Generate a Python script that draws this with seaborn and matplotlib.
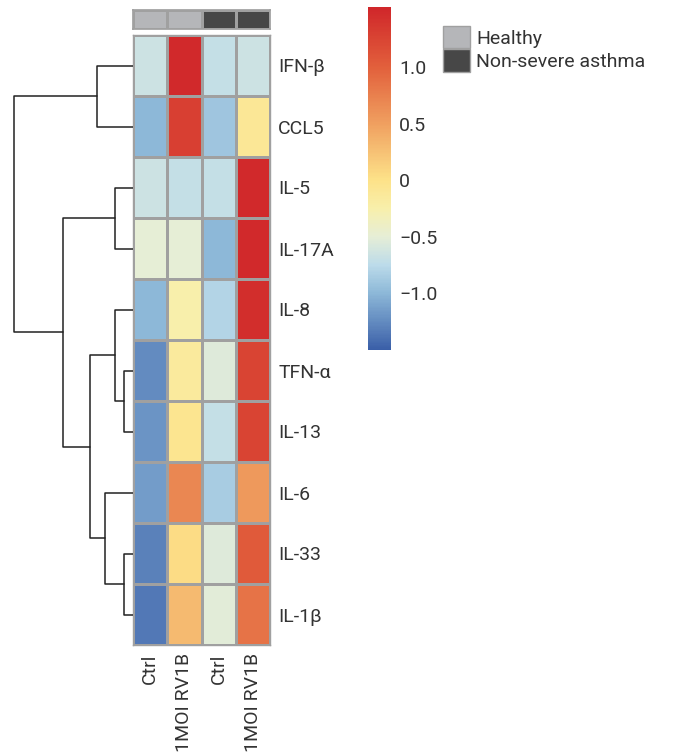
import numpy as np
import pandas as pd
import seaborn as sns
import matplotlib.pyplot as plt
from matplotlib.colors import LinearSegmentedColormap, ListedColormap
from matplotlib.patches import Patch

sns.set_theme(style="white")
plt.rcParams['font.family'] = ['Roboto', 'DejaVu Sans']

genes = ["IFN-β", "CCL5", "IL-5", "IL-17A", "IL-8", "TFN-α", "IL-13", "IL-6", "IL-33", "IL-1β"]
samples = ["Ctrl", "1MOI RV1B", "Ctrl", "1MOI RV1B"]
groups = ["Healthy", "Healthy", "Non-severe asthma", "Non-severe asthma"]

healthy_ctrl = [-0.65, -1.0, -0.65, -0.5, -1.0, -1.25, -1.2, -1.15, -1.3, -1.35]
healthy_rv1b = [1.5, 1.3, -0.7, -0.5, -0.25, -0.15, -0.05, 0.7, 0.05, 0.3]
nsa_ctrl = [-0.7, -0.9, -0.7, -1.0, -0.8, -0.55, -0.7, -0.85, -0.55, -0.52]
nsa_rv1b = [-0.65, -0.1, 1.5, 1.5, 1.45, 1.25, 1.25, 0.55, 1.05, 0.85]

# row linkage (display order leaves 0..9): child a, child b, height
row_linkage = [
    (0, 1, 36),
    (2, 3, 18),
    (5, 6, 9),
    (4, 12, 18),
    (8, 9, 9),
    (7, 14, 28),
    (13, 15, 43),
    (11, 16, 70),
    (10, 17, 119),
]

vmin, vmax = -1.5, 1.53
cmap_nodes = [(-1.5, "#3a5fa8"), (-1.0, "#8db8d8"), (-0.75, "#bcdbea"), (-0.5, "#e6eed6"),
              (-0.25, "#f8efab"), (0.0, "#fde289"), (0.5, "#f0a060"), (1.0, "#e2603c"),
              (1.53, "#d0262a")]
cmap = LinearSegmentedColormap.from_list(
    "expr", [((v - vmin) / (vmax - vmin), c) for v, c in cmap_nodes])

data = pd.DataFrame({"h_ctrl": healthy_ctrl, "h_rv": healthy_rv1b,
                     "n_ctrl": nsa_ctrl, "n_rv": nsa_rv1b}, index=genes)

W, H = 679, 756
fig = plt.figure(figsize=(W / 100, H / 100), dpi=100)

def px_axes(x0, y0, x1, y1):
    return fig.add_axes([x0 / W, 1 - y1 / H, (x1 - x0) / W, (y1 - y0) / H])

ax_heat = px_axes(133, 35, 270, 645)
ax_col = px_axes(133, 10, 270, 29)
ax_den = px_axes(0, 35, 133, 645)
ax_cbar = px_axes(368, 7, 391, 350)

grid_color = "#a0a0a0"
text_color = "#333333"
fs = 14
sns.heatmap(data, ax=ax_heat, cmap=cmap, vmin=vmin, vmax=vmax, linewidths=1,
            linecolor=grid_color, cbar_ax=ax_cbar, xticklabels=samples, yticklabels=genes)
ax_heat.yaxis.tick_right()
ax_heat.tick_params(axis="y", length=0, pad=6, labelsize=fs, labelrotation=0, colors=text_color)
ax_heat.tick_params(axis="x", length=0, pad=6, labelsize=fs, labelrotation=90, colors=text_color)
ax_heat.set_ylabel("")
for s in ax_heat.spines.values():
    s.set_visible(True)
    s.set_color(grid_color)
    s.set_linewidth(1)

# column colours
group_palette = {"Healthy": "#b5b6b9", "Non-severe asthma": "#474747"}
group_codes = [[list(group_palette).index(g) for g in groups]]
sns.heatmap(group_codes, ax=ax_col, cmap=ListedColormap(list(group_palette.values())),
            vmin=-0.5, vmax=1.5, cbar=False, linewidths=1, linecolor=grid_color,
            xticklabels=False, yticklabels=False)
for s in ax_col.spines.values():
    s.set_visible(True)
    s.set_color(grid_color)

# colourbar
cb = ax_heat.collections[0].colorbar
cb.set_ticks([-1.0, -0.5, 0, 0.5, 1.0])
cb.set_ticklabels(["−1.0", "−0.5", "0", "0.5", "1.0"])
cb.outline.set_visible(False)
ax_cbar.tick_params(length=0, pad=6, labelsize=fs, colors=text_color)

# dendrogram
n = len(genes)
pos = {i: (0.0, i + 0.5) for i in range(n)}
for k, (a, b, h) in enumerate(row_linkage):
    ha, ya = pos[a]
    hb, yb = pos[b]
    ax_den.plot([ha, h, h, hb], [ya, ya, yb, yb], color="#222222", lw=1.1)
    pos[n + k] = (h, (ya + yb) / 2)
root_h = row_linkage[-1][2]
ax_den.set_xlim(root_h * 133 / 119, 0)
ax_den.set_ylim(n, 0)
ax_den.axis("off")

handles = [Patch(facecolor=c, edgecolor=grid_color, label=g) for g, c in group_palette.items()]
fig.legend(handles=handles, loc="upper left", bbox_to_anchor=(443 / W, 1 - 26 / H),
           frameon=False, fontsize=fs, handlelength=1.4, handleheight=1.4,
           handletextpad=0.3, labelspacing=0.05, borderpad=0, borderaxespad=0,
           labelcolor=text_color)

fig.savefig("out.png", dpi=100)
